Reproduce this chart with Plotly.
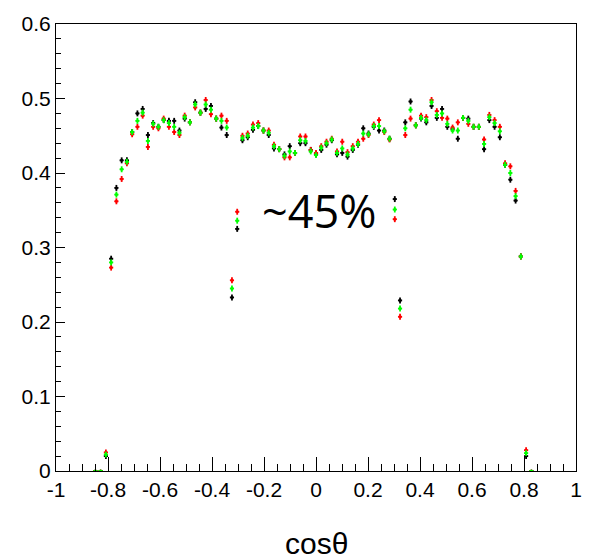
import numpy as np
import plotly.graph_objects as go

# ---- data ----
n_bins = 99                      # histogram binning over [-1, 1]
bin_width = 2.0 / n_bins
bin_index = np.arange(-42, 42)   # bins shown (84)
bin_centers = bin_index * bin_width

black_vals = [0, 0, 0.020,
              0.285, 0.380, 0.417, 0.417, 0.455, 0.480, 0.486, 0.451, 0.467, 0.462, 0.471, 0.470,
              0.470, 0.457, 0.473, 0.468, 0.495, 0.481, 0.486, 0.490, 0.473, 0.461, 0.451,
              0.233, 0.325,
              0.444, 0.448, 0.458, 0.463, 0.457, 0.451, 0.433, 0.432, 0.425, 0.436, 0.427, 0.440,
              0.440, 0.431, 0.425, 0.431, 0.438, 0.444, 0.425, 0.427, 0.422, 0.431, 0.438, 0.460,
              0.453, 0.462, 0.457, 0.457, 0.446,
              0.365, 0.229,
              0.468, 0.496, 0.464, 0.473, 0.468, 0.490, 0.474, 0.486, 0.462, 0.459, 0.446, 0.474,
              0.473, 0.462, 0.462, 0.432, 0.471, 0.462, 0.448, 0.411, 0.391, 0.363, 0.288,
              0.020, 0]

green_vals = [0, 0, 0.022,
              0.280, 0.371, 0.405, 0.415, 0.455, 0.470, 0.481, 0.443, 0.466, 0.462, 0.471, 0.467,
              0.462, 0.454, 0.475, 0.468, 0.492, 0.481, 0.492, 0.485, 0.473, 0.470, 0.461,
              0.245, 0.336,
              0.447, 0.450, 0.461, 0.463, 0.457, 0.454, 0.436, 0.432, 0.423, 0.429, 0.427, 0.444,
              0.443, 0.429, 0.424, 0.434, 0.440, 0.445, 0.427, 0.433, 0.425, 0.433, 0.439, 0.453,
              0.452, 0.463, 0.463, 0.456, 0.446,
              0.351, 0.218,
              0.460, 0.485, 0.464, 0.474, 0.471, 0.495, 0.478, 0.480, 0.466, 0.457, 0.457, 0.474,
              0.470, 0.462, 0.462, 0.439, 0.475, 0.467, 0.456, 0.411, 0.400, 0.369, 0.288,
              0.024, 0]

red_vals = [0, 0, 0.025,
            0.273, 0.362, 0.392, 0.413, 0.452, 0.462, 0.477, 0.435, 0.462, 0.460, 0.473, 0.462,
            0.455, 0.451, 0.477, 0.468, 0.488, 0.481, 0.498, 0.479, 0.473, 0.477, 0.470,
            0.256, 0.348,
            0.450, 0.453, 0.465, 0.467, 0.457, 0.457, 0.438, 0.432, 0.421, 0.421, 0.427, 0.449,
            0.449, 0.431, 0.427, 0.436, 0.442, 0.446, 0.429, 0.442, 0.428, 0.436, 0.442, 0.446,
            0.451, 0.465, 0.471, 0.455, 0.445,
            0.338, 0.207,
            0.451, 0.473, 0.464, 0.477, 0.475, 0.498, 0.483, 0.474, 0.473, 0.461, 0.468, 0.474,
            0.466, 0.462, 0.462, 0.445, 0.478, 0.471, 0.462, 0.413, 0.409, 0.376, 0.288,
            0.028, 0]

x_tick_vals = [-1, -0.8, -0.6, -0.4, -0.2, 0, 0.2, 0.4, 0.6, 0.8, 1]
x_tick_text = ["-1", "-0.8", "-0.6", "-0.4", "-0.2", "0", "0.2", "0.4", "0.6", "0.8", "1"]
y_tick_vals = [0, 0.1, 0.2, 0.3, 0.4, 0.5, 0.6]
y_tick_text = ["0", "0.1", "0.2", "0.3", "0.4", "0.5", "0.6"]

label_text = "~45%"
x_title = "cosθ"

fig = go.Figure()
for vals, color in [(black_vals, "#000000"), (red_vals, "#ff0000"), (green_vals, "#00ff00")]:
    err = [0.004 if v > 0 else 0 for v in vals]
    fig.add_trace(go.Scatter(
        x=bin_centers, y=vals, mode="markers",
        marker=dict(color=color, size=3),
        error_y=dict(type="data", array=err, color=color, thickness=1.8, width=0),
        error_x=dict(type="constant", value=0.008, color=color, thickness=1.8, width=0),
        showlegend=False, hoverinfo="skip"))

tick_font = dict(family="Liberation Sans, Arial, sans-serif", size=21, color="black")
axis_common = dict(showline=True, linecolor="black", linewidth=1, mirror=True,
                   ticks="inside", tickcolor="black", tickwidth=1,
                   showgrid=False, zeroline=False, tickfont=tick_font)

fig.update_layout(
    width=594, height=559,
    margin=dict(l=56, r=12, t=15, b=88),
    paper_bgcolor="white", plot_bgcolor="white",
    xaxis=dict(range=[-1, 1], tickvals=x_tick_vals, ticktext=x_tick_text, ticklen=14,
               minor=dict(ticks="inside", ticklen=7, dtick=0.05, tick0=0, tickcolor="black", showgrid=False),
               **axis_common),
    yaxis=dict(range=[0, 0.6], tickvals=y_tick_vals, ticktext=y_tick_text, ticklen=9,
               ticklabelstandoff=0,
               minor=dict(ticks="inside", ticklen=5, dtick=0.02, tick0=0, tickcolor="black", showgrid=False),
               **axis_common),
    annotations=[
        dict(x=0.01, y=0.35, xref="x", yref="y", text=label_text, showarrow=False,
             font=dict(family="Open Sans, sans-serif", size=45, color="black")),
        dict(x=0.5, y=-0.162, xref="paper", yref="paper", text=x_title, showarrow=False,
             yanchor="middle",
             font=dict(family="Liberation Sans, Arial, sans-serif", size=30, color="black")),
    ],
)

fig.write_html("out.html")
